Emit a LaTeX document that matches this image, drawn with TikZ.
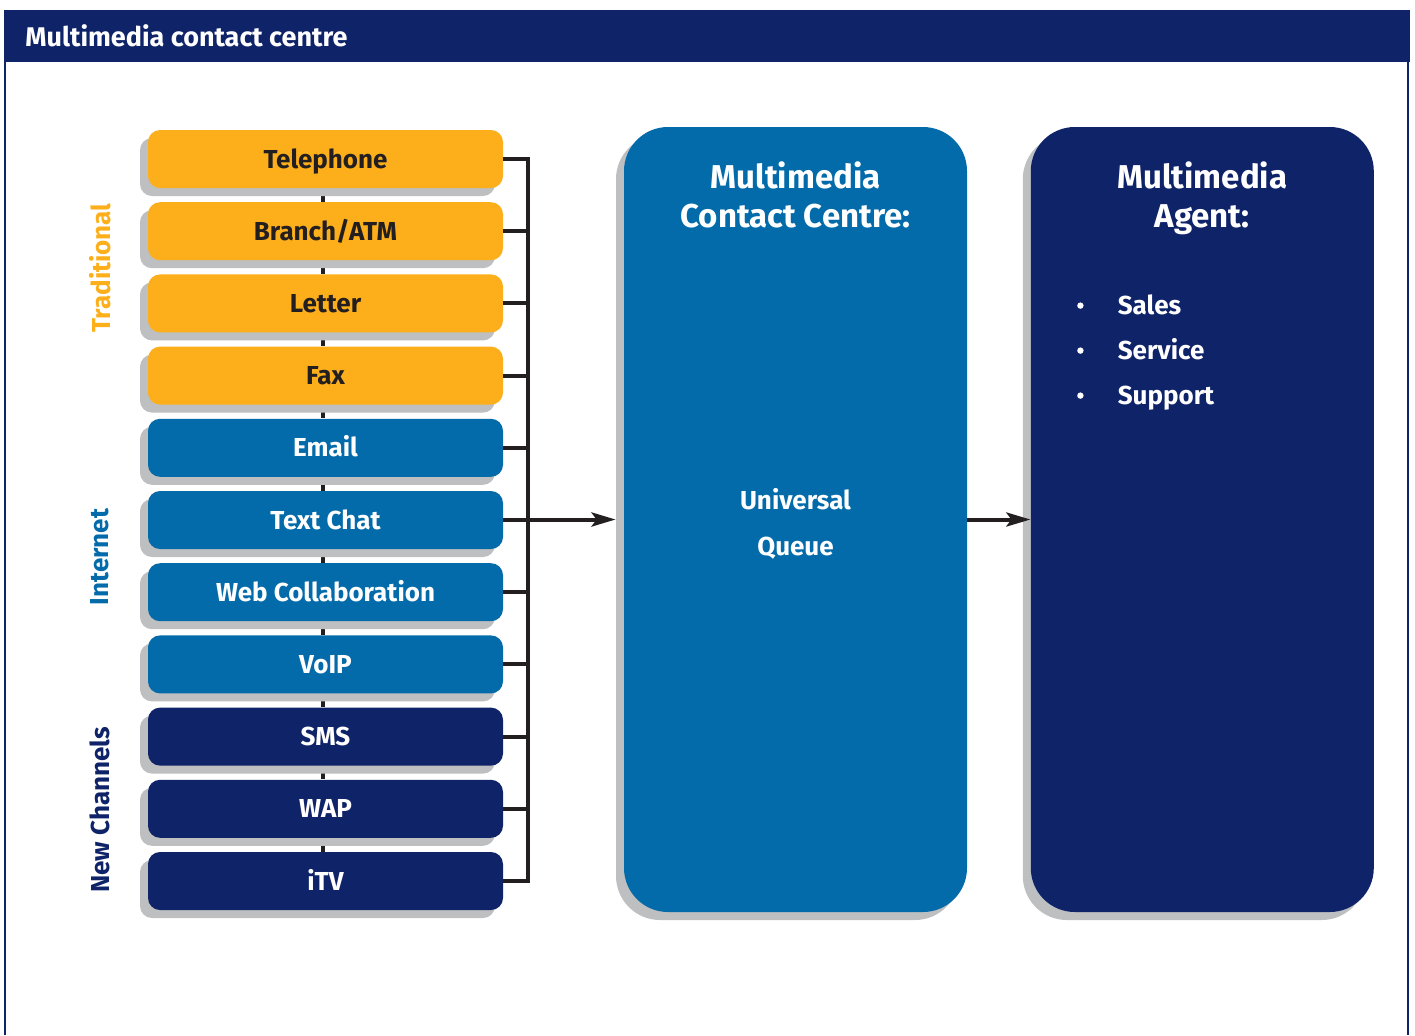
\documentclass[tikz,border=0pt]{standalone}
\usepackage{fontspec}
\setmainfont{Fira Sans}
\usepackage{tikz}
\usetikzlibrary{arrows.meta, positioning, shadows, backgrounds}
\definecolor{amber}{HTML}{FCAF1A}
\definecolor{seablue}{HTML}{046BAA}
\definecolor{navy}{HTML}{0F2369}
\definecolor{shade}{HTML}{BEBFC1}
\definecolor{ink}{HTML}{231F20}

\begin{document}
\begin{tikzpicture}[x=0.5pt,y=-0.5pt,node distance=6.7pt,>={Stealth[length=12pt,width=7pt,inset=2.5pt]},
        shade/.style={drop shadow={shadow xshift=-4pt,shadow yshift=-4pt,fill=shade,opacity=1}},
        chan/.style={shade,rounded corners=6pt,minimum width=177.5pt,minimum height=29pt,inner sep=0pt,
          text height=11pt,text depth=2pt,font=\fontsize{13}{15}\selectfont\bfseries},
        trad/.style={chan,fill=amber,text=ink},
        inet/.style={chan,fill=seablue,text=white},
        newch/.style={chan,fill=navy,text=white},
        hub/.style={shade,rounded corners=22pt,minimum width=171.5pt,minimum height=392.5pt,inner sep=0pt},
        hubtitle/.style={align=center,text=white,inner sep=0pt,font=\fontsize{16.5}{19.5}\selectfont\bfseries},
        plain/.style={text=white,inner sep=0pt,font=\fontsize{13}{15}\selectfont\bfseries},
        side/.style={rotate=90,inner sep=0pt,font=\fontsize{13}{15}\selectfont\bfseries},
        link/.style={draw=ink,line width=2pt}]

      \useasboundingbox (0,0) rectangle (1415,1035);
      \fill[navy] (4,10) rectangle (1410,62);
      \draw[navy,line width=1pt] (5,62) -- (5,1035) (1408,62) -- (1408,1035);
      \node[plain,anchor=west,font=\fontsize{13.5}{15}\selectfont\bfseries] (head) at (25,36) {Multimedia contact centre};

      \node[trad]  (tel)    at (325.5,159)  {Telephone};
      \node[trad]  (branch) [below=of tel]    {Branch/ATM};
      \node[trad]  (letter) [below=of branch] {Letter};
      \node[trad]  (fax)    [below=of letter] {Fax};
      \node[inet]  (email)  [below=of fax]    {Email};
      \node[inet]  (chat)   [below=of email]  {Text Chat};
      \node[inet]  (web)    [below=of chat]   {Web Collaboration};
      \node[inet]  (voip)   [below=of web]    {VoIP};
      \node[newch] (sms)    [below=of voip]   {SMS};
      \node[newch] (wap)    [below=of sms]    {WAP};
      \node[newch] (itv)    [below=of wap]    {iTV};

      \node[side,text=amber]   (l_trad) at (100,268) {Traditional};
      \node[side,text=seablue] (l_inet) at (100,557) {Internet};
      \node[side,text=navy]    (l_new)  at (100,810) {New Channels};

      \node[hub,fill=seablue] (mcc)   at (795.5,519.5) {};
      \node[hub,fill=navy]    (agent) [right=31.5pt of mcc] {};

      \node[hubtitle,anchor=north] (mcc_t)   at ([yshift=-17.5pt]mcc.north)   {Multimedia\\Contact Centre:};
      \node[hubtitle,anchor=north] (agent_t) at ([yshift=-17.5pt]agent.north) {Multimedia\\Agent:};
      \node[plain,align=center,font=\fontsize{13}{23}\selectfont\bfseries] (queue) at ([yshift=-2pt]mcc.center) {Universal\\Queue};
      \foreach \t [count=\k] in {Sales,Service,Support} {
        \fill[white] ([xshift=25pt,yshift=-89.5pt-22.5pt*(\k-1)]agent.north west) circle (1.6pt);
        \node[plain,anchor=base west] (item_\k) at ([xshift=43.5pt,yshift=-94pt-22.5pt*(\k-1)]agent.north west) {\t};
      }

      \begin{scope}[on background layer]
        \foreach \a/\b in {tel/branch,branch/letter,letter/fax,fax/email,email/chat,chat/web,web/voip,voip/sms,sms/wap,wap/itv}
          \draw[link] ([xshift=-1.5pt]\a.south) -- ([xshift=-1.5pt]\b.north);
      \end{scope}
      \coordinate (bus) at ([xshift=12.5pt]tel.east);
      \foreach \n in {tel,branch,letter,fax,email,chat,web,voip,sms,wap,itv}
        \draw[link] (\n.east) -- (\n.east -| bus);
      \draw[link] ([yshift=1pt]bus |- tel.east) -- ([yshift=-1pt]bus |- itv.east);
      \draw[link,->] (bus |- mcc.west) -- ([xshift=-4pt]mcc.west);
      \draw[link,->] (mcc.east) -- (agent.west);
    \end{tikzpicture}
\end{document}
